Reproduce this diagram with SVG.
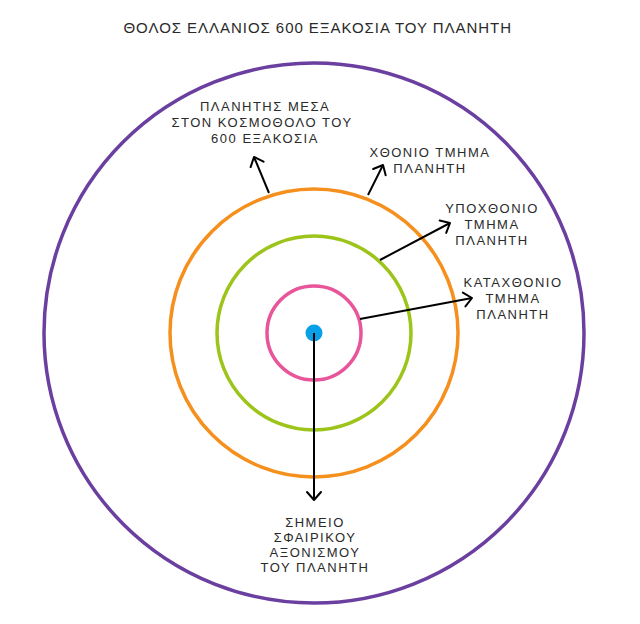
<svg xmlns="http://www.w3.org/2000/svg" width="640" height="624" viewBox="0 0 640 624">
<defs>
<marker id="ah" markerUnits="userSpaceOnUse" markerWidth="20" markerHeight="20" refX="10" refY="10" orient="auto" viewBox="0 0 20 20">
<path d="M2,3 L10,10 L2,17" fill="none" stroke="#000" stroke-width="2" stroke-linecap="round" stroke-linejoin="round"/>
</marker>
</defs>
<style>
text{font-family:"Liberation Sans","DejaVu Sans",sans-serif;fill:#2a2a2a;text-anchor:middle;font-size:13px;letter-spacing:1.5px}
.title{font-size:15px;letter-spacing:1.5px}
.ring{fill:none}
.conn{stroke:#000;stroke-width:2;fill:none;marker-end:url(#ah)}
</style>
<rect width="640" height="624" fill="#fff"/>
<g id="title"><text class="title" x="318" y="33" textLength="389" lengthAdjust="spacing">ΘΟΛΟΣ ΕΛΛΑΝΙΟΣ 600 ΕΞΑΚΟΣΙΑ ΤΟΥ ΠΛΑΝΗΤΗ</text></g>
<g id="ring-outer"><circle class="ring" cx="314" cy="333" r="270" stroke="#6a3fa0" stroke-width="3.5"/></g>
<g id="ring-orange"><circle class="ring" cx="314" cy="333" r="144" stroke="#f5901e" stroke-width="3.5"/></g>
<g id="ring-green"><circle class="ring" cx="314" cy="333" r="97" stroke="#9dc41a" stroke-width="3.5"/></g>
<g id="ring-pink"><circle class="ring" cx="314" cy="333" r="47" stroke="#e8559a" stroke-width="3.5"/></g>
<g id="center"><circle cx="314" cy="333" r="8.5" fill="#0aa0e8"/></g>
<g id="connectors">
<line class="conn" x1="269" y1="193" x2="254" y2="157"/>
<line class="conn" x1="368" y1="195" x2="383" y2="165"/>
<line class="conn" x1="380" y1="260" x2="450" y2="223"/>
<line class="conn" x1="360" y1="319" x2="472" y2="298"/>
<line class="conn" x1="314" y1="333" x2="314" y2="500"/>
</g>
<g id="label-planet">
<text x="265" y="111">ΠΛΑΝΗΤΗΣ ΜΕΣΑ</text>
<text x="262" y="127">ΣΤΟΝ ΚΟΣΜΟΘΟΛΟ ΤΟΥ</text>
<text x="265" y="143">600 ΕΞΑΚΟΣΙΑ</text>
</g>
<g id="label-chthonio">
<text x="430" y="157">ΧΘΟΝΙΟ ΤΜΗΜΑ</text>
<text x="430" y="173">ΠΛΑΝΗΤΗ</text>
</g>
<g id="label-ypochthonio">
<text x="492" y="213">ΥΠΟΧΘΟΝΙΟ</text>
<text x="492" y="229">ΤΜΗΜΑ</text>
<text x="492" y="245">ΠΛΑΝΗΤΗ</text>
</g>
<g id="label-katachthonio">
<text x="513" y="287">ΚΑΤΑΧΘΟΝΙΟ</text>
<text x="513" y="303">ΤΜΗΜΑ</text>
<text x="513" y="319">ΠΛΑΝΗΤΗ</text>
</g>
<g id="label-point">
<text x="315" y="527">ΣΗΜΕΙΟ</text>
<text x="315" y="542">ΣΦΑΙΡΙΚΟΥ</text>
<text x="315" y="557">ΑΞΟΝΙΣΜΟΥ</text>
<text x="315" y="572">ΤΟΥ ΠΛΑΝΗΤΗ</text>
</g>
</svg>
